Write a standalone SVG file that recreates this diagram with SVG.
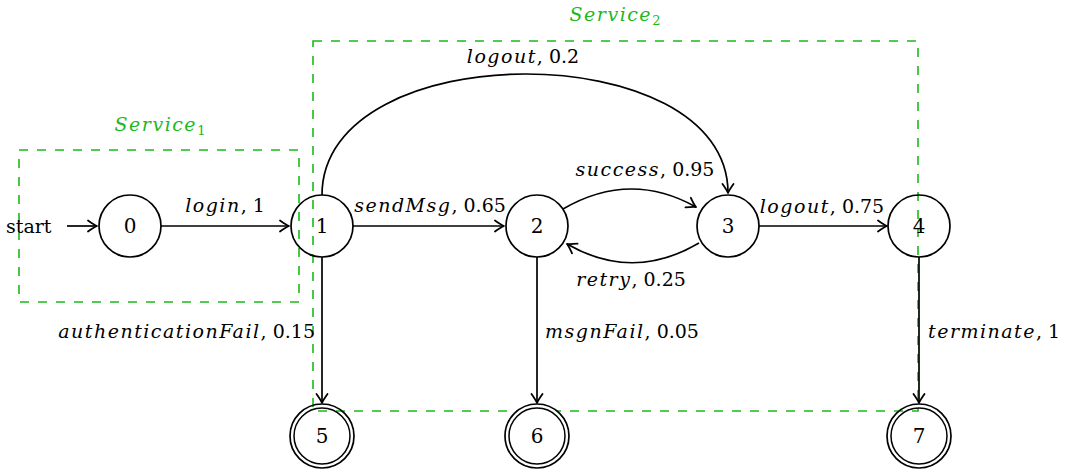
<svg xmlns="http://www.w3.org/2000/svg" width="1074" height="473" viewBox="0 0 1074 473">
  <style>
    .state { fill: #ffffff; stroke: #000000; stroke-width: 1.7; }
    .ring { fill: none; stroke: #000000; stroke-width: 1.5; }
    .edge { fill: none; stroke: #000000; stroke-width: 1.7; marker-end: url(#arrow); }
    .box { fill: none; stroke: #1cb81c; stroke-width: 1.6; stroke-dasharray: 9 9; }
    .lbl { font-family: 'DejaVu Serif', serif; font-size: 19px; fill: #000000; }
    .num { text-anchor: middle; dominant-baseline: central; font-size: 20px; }
    .it { font-style: italic; letter-spacing: 1.5px; }
    .svc { fill: #1cb81c; font-style: italic; letter-spacing: 1.5px; }
    .sub { font-style: normal; font-size: 13px; letter-spacing: 0; }
  </style>
  <defs>
    <marker id="arrow" viewBox="-12 -7 14 14" markerWidth="14" markerHeight="14" refX="0" refY="0" orient="auto" markerUnits="userSpaceOnUse">
      <path d="M-9,-5.5 Q-3,-1.2 0,0 Q-3,1.2 -9,5.5" fill="none" stroke="#000000" stroke-width="1.8" stroke-linecap="round" stroke-linejoin="round"/>
    </marker>
  </defs>

  <!-- service groupings -->
  <g id="service1">
    <rect class="box" x="19" y="150" width="280" height="152"/>
    <text class="lbl svc" x="160" y="131" text-anchor="middle">Service<tspan class="sub" dy="4">1</tspan></text>
  </g>
  <g id="service2">
    <rect class="box" x="313" y="41" width="605" height="370"/>
    <text class="lbl svc" x="615" y="21" text-anchor="middle">Service<tspan class="sub" dy="4">2</tspan></text>
  </g>

  <!-- transitions -->
  <g id="connectors">
    <path class="edge" d="M67,226 L97,226"/>
    <text class="lbl" x="6" y="233">start</text>

    <path class="edge" d="M161,226 L289,226"/>
    <text class="lbl" x="225" y="212" text-anchor="middle"><tspan class="it">login</tspan>, 1</text>

    <path class="edge" d="M353,226 L504,226"/>
    <text class="lbl" x="430" y="212" text-anchor="middle"><tspan class="it">sendMsg</tspan>, 0.65</text>

    <path class="edge" d="M563,209 Q630,170 696,207"/>
    <text class="lbl" x="645" y="176" text-anchor="middle"><tspan class="it">success</tspan>, 0.95</text>

    <path class="edge" d="M699,243 Q633,282 567,244"/>
    <text class="lbl" x="631" y="286" text-anchor="middle"><tspan class="it">retry</tspan>, 0.25</text>

    <path class="edge" d="M759,226 L887,226"/>
    <text class="lbl" x="822" y="213" text-anchor="middle"><tspan class="it">logout</tspan>, 0.75</text>

    <path class="edge" d="M322,195 C322,34 728,34 728,193"/>
    <text class="lbl" x="523" y="63" text-anchor="middle"><tspan class="it">logout</tspan>, 0.2</text>

    <path class="edge" d="M322,257 L322,403"/>
    <text class="lbl" x="315" y="338" text-anchor="end"><tspan class="it">authenticationFail</tspan>, 0.15</text>

    <path class="edge" d="M537,257 L537,403"/>
    <text class="lbl" x="545" y="338"><tspan class="it">msgnFail</tspan>, 0.05</text>

    <path class="edge" d="M919,257 L919,403"/>
    <text class="lbl" x="928" y="338"><tspan class="it">terminate</tspan>, 1</text>
  </g>

  <!-- states -->
  <g id="node0"><circle class="state" cx="130" cy="226" r="31"/><text class="lbl num" x="130" y="226">0</text></g>
  <g id="node1"><circle class="state" cx="322" cy="226" r="31" fill-opacity="0"/><text class="lbl num" x="322" y="226">1</text></g>
  <g id="node2"><circle class="state" cx="537" cy="226" r="31"/><text class="lbl num" x="537" y="226">2</text></g>
  <g id="node3"><circle class="state" cx="728" cy="226" r="31"/><text class="lbl num" x="728" y="226">3</text></g>
  <g id="node4"><circle class="state" cx="919" cy="226" r="31" fill-opacity="0"/><text class="lbl num" x="919" y="226">4</text></g>
  <g id="node5"><circle class="state" cx="322" cy="436" r="32" fill-opacity="0"/><circle class="ring" cx="322" cy="436" r="28"/><text class="lbl num" x="322" y="436">5</text></g>
  <g id="node6"><circle class="state" cx="537" cy="436" r="32"/><circle class="ring" cx="537" cy="436" r="28"/><text class="lbl num" x="537" y="436">6</text></g>
  <g id="node7"><circle class="state" cx="919" cy="436" r="32" fill-opacity="0"/><circle class="ring" cx="919" cy="436" r="28"/><text class="lbl num" x="919" y="436">7</text></g>
</svg>
